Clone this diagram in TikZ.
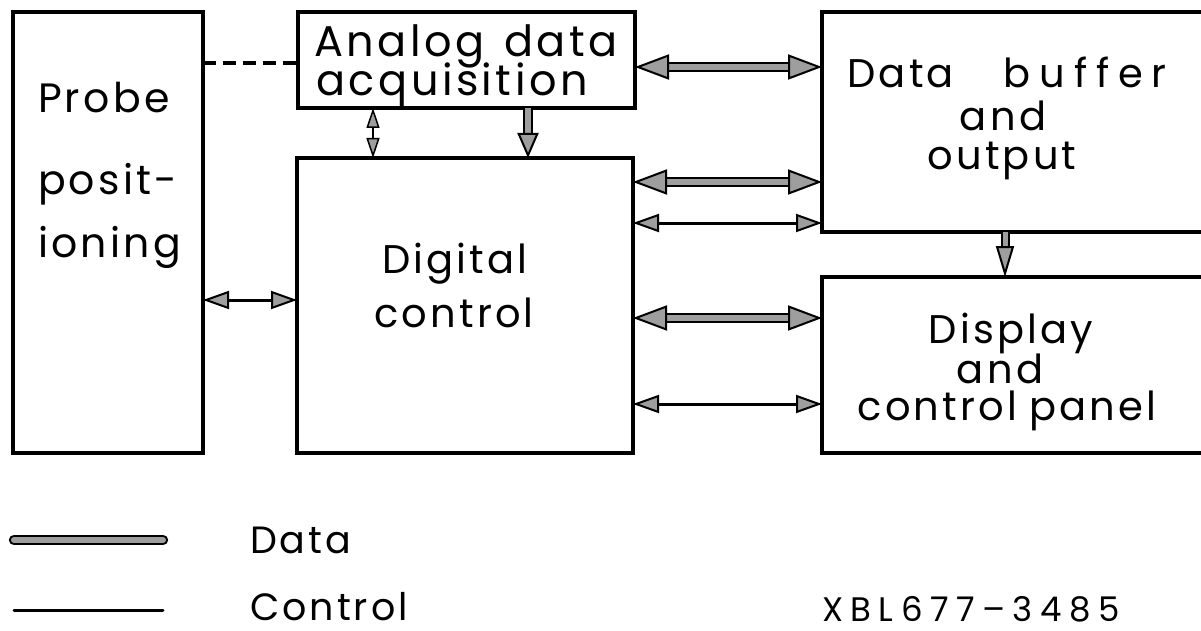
\documentclass[tikz,border=0pt]{standalone}
\usepackage{fontspec}
\setmainfont{Poppins}[LetterSpace=8]
\newfontfamily\widefont{Poppins}[LetterSpace=22]
\usetikzlibrary{arrows.meta}
\definecolor{datagray}{gray}{0.62}
\tikzset{
  box/.style={draw, line width=4pt, rectangle, inner sep=0pt, outer sep=0pt, anchor=north west},
  lbl/.style={inner sep=0pt, outer sep=0pt, anchor=base, font=\fontsize{40}{40}\selectfont},
  lblw/.style={lbl, anchor=base west},
  datatips/.style={draw=datagray, line width=2pt,
    arrows={Triangle[length=34pt,width=25pt,color=black,fill=datagray]-Triangle[length=34pt,width=25pt,color=black,fill=datagray]}},
  databar/.style={line width=2.2pt, double=datagray, double distance=6pt},
  ctrl/.style={line width=3pt,
    arrows={Triangle[length=26pt,width=18pt,line width=2pt,fill=datagray]-Triangle[length=26pt,width=18pt,line width=2pt,fill=datagray]}},
  dashlink/.style={line width=3.5pt, dash pattern=on 13pt off 7pt},
}
\begin{document}
\begin{tikzpicture}[x=1pt,y=-1pt]
\useasboundingbox (0,0) rectangle (1201,631);
\clip (0,0) rectangle (1201,631);

% blocks
\node[box, minimum width=190pt, minimum height=441pt] (probe) at (13,12) {};
\node[box, minimum width=337pt, minimum height=96pt] (analog) at (298,12) {};
\node[box, minimum width=336pt, minimum height=295pt] (digital) at (297,158) {};
\node[box, minimum width=420pt, minimum height=220pt] (buffer) at (822,12) {};
\node[box, minimum width=420pt, minimum height=176pt] (display) at (822,277) {};

% block texts
\node[lblw, font=\fontsize{41}{41}\selectfont] (pr1) at (38,113) {Probe};
\node[lblw, font=\fontsize{41}{41}\selectfont] (pr2) at (38,194) {posit-};
\node[lblw, font=\fontsize{41}{41}\selectfont] (pr3) at (38,257) {ioning};
\node[lbl, font=\fontsize{43}{43}\selectfont] (an1) at (466,57) {Analog\hspace{20pt}data};
\node[lbl, font=\fontsize{43}{43}\selectfont] (an2) at (452,96) {acquisition};
\node[lbl] (bu1) at (1007,88) {Data\hspace{50pt}{\widefont buffer}};
\node[lbl] (bu2) at (1003,131) {and};
\node[lbl] (bu3) at (1002,170) {output};
\node[lbl] (di1) at (455,273) {Digital};
\node[lbl] (di2) at (454,327) {control};
\node[lbl] (ds1) at (1011,343) {Display};
\node[lbl] (ds2) at (1000,383) {and};
\node[lbl] (ds3) at (1007,420) {control\hspace{12pt}panel};

% rows and columns of the connectors
\coordinate (rdash) at (0,63);
\coordinate (rd1) at (0,67);
\coordinate (rd2) at (0,182);
\coordinate (rc2) at (0,223);
\coordinate (rp) at (0,300);
\coordinate (rd3) at (0,318);
\coordinate (rc3) at (0,404);
\coordinate (cv1) at (373,0);
\coordinate (cv2) at (528,0);
\coordinate (cv3) at (1005,0);

% probe to analog link
\draw[dashlink] (probe.east |- rdash) -- (analog.west |- rdash);

% data paths
\draw[databar, shorten >=30pt, shorten <=30pt] (analog.east |- rd1) -- (buffer.west |- rd1);
\draw[datatips] (analog.east |- rd1) -- (buffer.west |- rd1);
\draw[databar, shorten >=30pt, shorten <=30pt] (digital.east |- rd2) -- (buffer.west |- rd2);
\draw[datatips] (digital.east |- rd2) -- (buffer.west |- rd2);
\draw[databar, shorten >=30pt, shorten <=30pt] (digital.east |- rd3) -- (display.west |- rd3);
\draw[datatips] (digital.east |- rd3) -- (display.west |- rd3);

% control paths
\draw[ctrl] (probe.east |- rp) -- (digital.west |- rp);
\draw[ctrl] (digital.east |- rc2) -- (buffer.west |- rc2);
\draw[ctrl] (digital.east |- rc3) -- (display.west |- rc3);
\draw[line width=2pt,
  arrows={Triangle[length=20pt,width=13pt,line width=1.5pt,fill=datagray]-Triangle[length=20pt,width=13pt,line width=1.5pt,fill=datagray]}]
  (analog.south -| cv1) -- (digital.north -| cv1);

% downward data paths
\draw[line width=2pt, double=datagray, double distance=6pt, shorten >=22pt] (analog.south -| cv2) -- (digital.north -| cv2);
\draw[draw=datagray, line width=2pt,
  arrows={-Triangle[length=25pt,width=21pt,color=black,fill=datagray]}]
  (analog.south -| cv2) -- (digital.north -| cv2);
\draw[line width=2pt, double=datagray, double distance=5pt, shorten >=28pt] (buffer.south -| cv3) -- (display.north -| cv3);
\draw[draw=datagray, line width=2pt,
  arrows={-Triangle[length=31pt,width=18pt,color=black,fill=datagray]}]
  (buffer.south -| cv3) -- (display.north -| cv3);

% legend
\coordinate (ldA) at (14,540);
\coordinate (ldB) at (163,540);
\coordinate (lcA) at (14,610);
\coordinate (lcB) at (163,610);
\draw[databar, line cap=round] (ldA) -- (ldB);
\draw[line width=3pt, line cap=round] (lcA) -- (lcB);
\node[lblw, font=\fontsize{38}{38}\selectfont] (lgd) at (250,553) {Data};
\node[lblw, font=\fontsize{38}{38}\selectfont] (lgc) at (250,620) {Control};
\node[lblw, font=\fontsize{34}{34}\widefont] (ref) at (822,621) {XBL677–3485};
\end{tikzpicture}
\end{document}
